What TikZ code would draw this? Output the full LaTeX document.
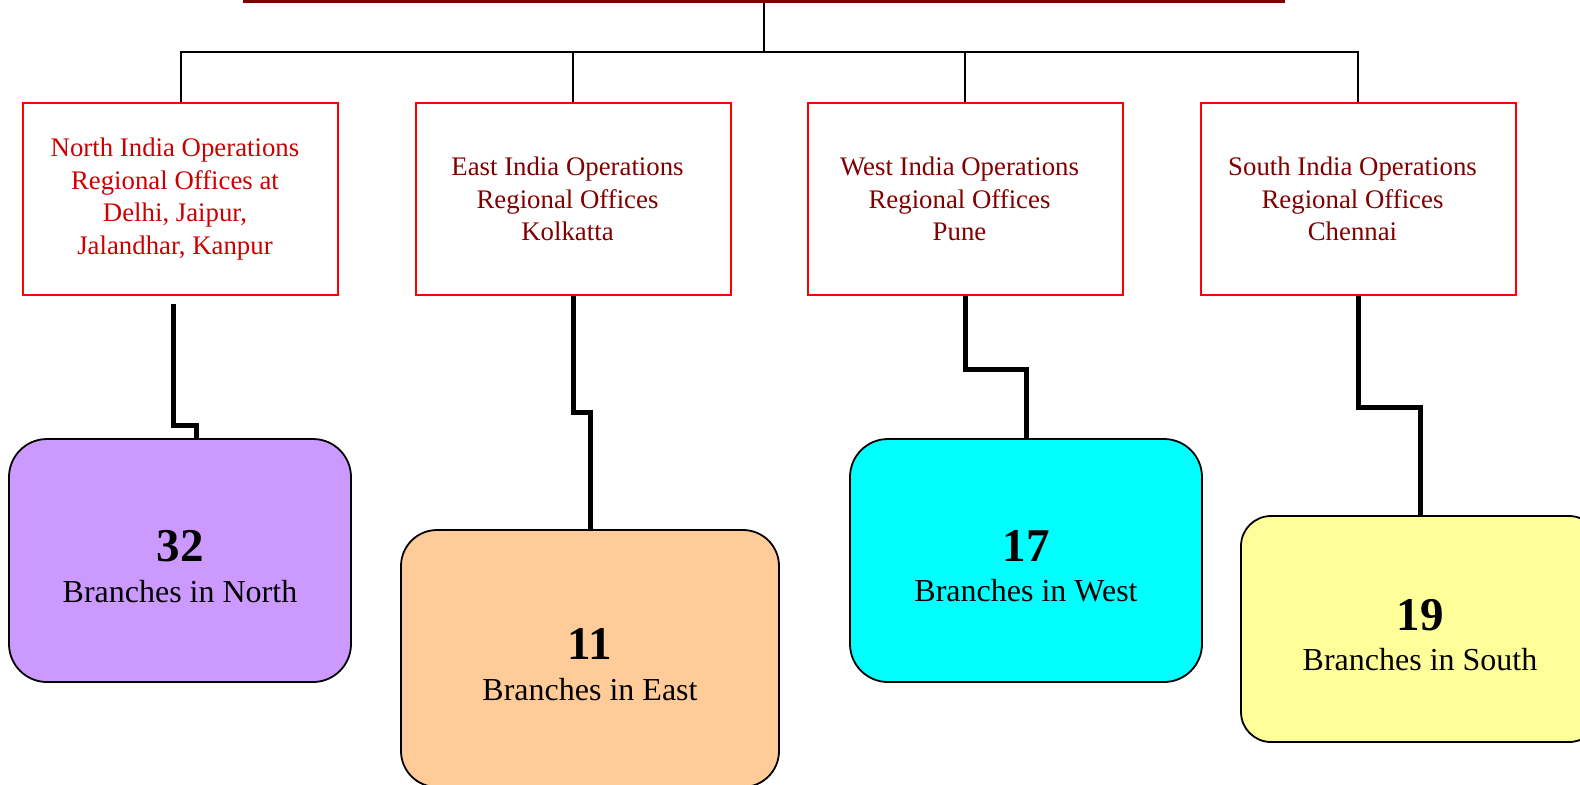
\documentclass[tikz,border=0pt]{standalone}
\usepackage{fontspec}
\setmainfont{Liberation Serif}
\usetikzlibrary{calc}
\definecolor{rootred}{RGB}{128,0,0}
\definecolor{northtext}{RGB}{204,0,0}
\definecolor{officetext}{RGB}{128,0,0}
\definecolor{purplefill}{RGB}{204,153,255}
\definecolor{peachfill}{RGB}{255,204,153}
\definecolor{cyanfill}{RGB}{0,255,255}
\definecolor{yellowfill}{RGB}{255,255,153}
\newcommand{\branchnum}[1]{{\rule{0pt}{21.5pt}\fontsize{23.5}{24}\selectfont\bfseries #1}}
\newcommand{\lnpad}{\hspace*{5.5pt}\mbox{}}
\begin{document}
\begin{tikzpicture}[x=0.5pt,y=-0.5pt,
  rootbar/.style={fill=rootred, draw=none, minimum width=521pt, minimum height=1.5pt, inner sep=0pt},
  officebox/.style={draw=red, line width=1pt, minimum width=157.5pt, minimum height=96pt,
    inner sep=0pt, align=center, font=\fontsize{13.4}{16.25}\selectfont, text=officetext},
  branchbox/.style={draw=black, line width=0.9pt, inner sep=0pt, align=center,
    font=\fontsize{16}{20.15}\selectfont, text=black},
  treeline/.style={line width=1pt, black},
  linkline/.style={line width=2.5pt, black, line join=miter}]
\useasboundingbox (0,0) rectangle (1580,784);

% regional offices
\node[rootbar] (root) at (764,1.5) {};
\coordinate (bus) at (764,52);
\node[officebox, text=northtext] (nbox) at (180.5,199)
  {North India Operations\lnpad\\Regional Offices at\lnpad\\Delhi, Jaipur,\lnpad\\Jalandhar, Kanpur\lnpad};
\node[officebox] (ebox) at (573,199)
  {East India Operations\lnpad\\Regional Offices\lnpad\\Kolkatta\lnpad};
\node[officebox] (wbox) at (965,199)
  {West India Operations\lnpad\\Regional Offices\lnpad\\Pune\lnpad};
\node[officebox] (sbox) at (1358,199)
  {South India Operations\lnpad\\Regional Offices\lnpad\\Chennai\lnpad};

% branch boxes
\node[branchbox, fill=purplefill, minimum width=171pt, minimum height=121.5pt, rounded corners=19pt]
  (npur) at (180,560.5) {\branchnum{32}\\Branches in North};
\node[branchbox, fill=peachfill, minimum width=189pt, minimum height=128.5pt, rounded corners=18pt]
  (epch) at (590,658.5) {\branchnum{11}\\Branches in East};
\node[branchbox, fill=cyanfill, minimum width=176pt, minimum height=121.5pt, rounded corners=19pt]
  (wcyn) at (1026,560.5) {\branchnum{17}\\Branches in West};
\node[branchbox, fill=yellowfill, minimum width=179pt, minimum height=113pt, rounded corners=15pt]
  (syel) at (1420,629) {\branchnum{19}\\Branches in South};

% tree lines
\draw[treeline] (root.south) -- (bus);
\draw[treeline] (nbox.north) |- (bus) -| (sbox.north);
\draw[treeline] (ebox.north) -- (ebox.north |- bus);
\draw[treeline] (wbox.north) -- (wbox.north |- bus);

% links to branch boxes
\draw[linkline] ($(nbox.south)+(-7.5,8)$) -- ++(0,121) -| ([xshift=8pt]npur.north);
\draw[linkline] (ebox.south) -- ++(0,116) -| (epch.north);
\draw[linkline] (wbox.south) -- ++(0,73) -| (wcyn.north);
\draw[linkline] (sbox.south) -- ++(0,111) -| (syel.north);
\end{tikzpicture}
\end{document}
